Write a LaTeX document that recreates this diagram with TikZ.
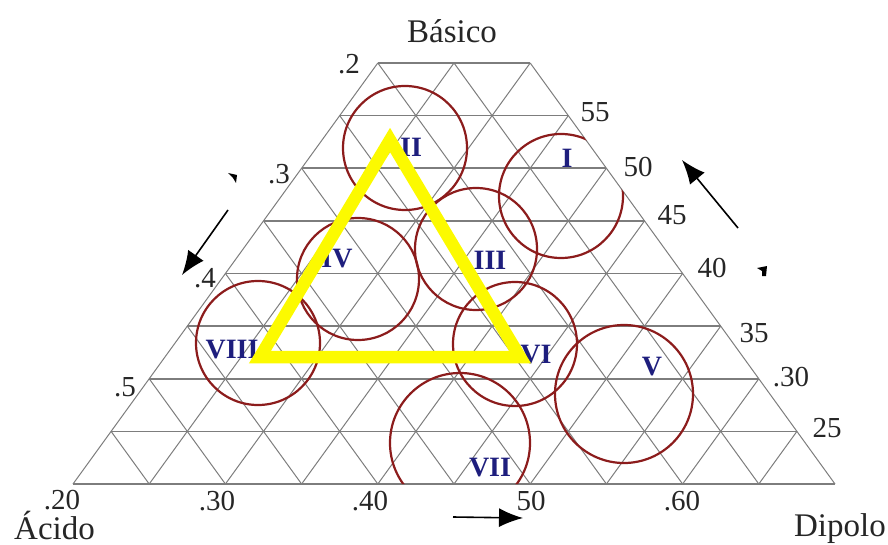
\documentclass[tikz,border=0pt]{standalone}
\usepackage{fontspec}
\setmainfont{Liberation Serif}
\usetikzlibrary{arrows.meta}
\definecolor{gridgray}{RGB}{125,125,125}
\definecolor{circred}{RGB}{140,28,28}
\definecolor{numblue}{RGB}{30,30,125}
\definecolor{yel}{RGB}{252,250,0}
\begin{document}
\begin{tikzpicture}[x=1pt,y=-1pt,
  gridh/.style={gridgray, line width=1.5pt},
  gridd/.style={gridgray, line width=1pt},
  region/.style={circred, line width=2.2pt},
  roman/.style={text=numblue, font=\fontsize{28}{30}\selectfont\bfseries, inner sep=0pt},
  ticklab/.style={font=\fontsize{29}{30}\selectfont, inner sep=0pt, text=black!85},
  axisname/.style={font=\fontsize{33}{36}\selectfont, inner sep=0pt, text=black!85},
  dirarrow/.style={black, line width=1.6pt, -{Latex[length=24pt,width=19pt]}},
  yelline/.style={yel, line width=12.5pt, line join=miter},
  ]
\useasboundingbox (0,0) rectangle (888,545);
% frame of the truncated triangle
\coordinate (A) at (73,484);
\coordinate (B) at (835,484);
\coordinate (TL) at ({73+38.1*8},{484-52.625*8});
\coordinate (TR) at ({73+76.2*2+38.1*8},{484-52.625*8});
% grid
\foreach \b in {0,...,8} {
  \draw[gridh] ({73+38.1*\b},{484-52.625*\b}) -- ({73+76.2*(10-\b)+38.1*\b},{484-52.625*\b});
}
\foreach \a in {0,...,9} {
  \pgfmathsetmacro\e{min(10-\a,8)}
  \draw[gridd] ({73+76.2*\a},484) -- ({73+76.2*\a+38.1*\e},{484-52.625*\e});
}
\foreach \a in {1,...,10} {
  \pgfmathsetmacro\e{min(\a,8)}
  \draw[gridd] ({73+76.2*\a},484) -- ({73+76.2*(\a-\e)+38.1*\e},{484-52.625*\e});
}
% circles
\begin{scope}
  \clip (A) -- (B) -- (TR) -- (TL) -- cycle;
  \draw[region] (561,196) circle[radius=62];
  \draw[region] (405,148) circle[radius=62];
  \draw[region] (476,249) circle[radius=61];
  \draw[region] (358,279) circle[radius=61];
  \draw[region] (624,394) circle[radius=69];
  \draw[region] (515,344) circle[radius=62];
  \draw[region] (460,443) circle[radius=70];
  \draw[region] (258,343) circle[radius=62];
\end{scope}
% roman labels
\node[roman] (rI) at (567,158) {I};
\node[roman] (rII) at (411,147) {II};
\node[roman] (rIII) at (490,260) {III};
\node[roman] (rIV) at (337,259) {IV};
\node[roman] (rV) at (652,367) {V};
\node[roman] (rVI) at (536,355) {VI};
\node[roman] (rVII) at (490,468) {VII};
\node[roman] (rVIII) at (232,350) {VIII};
% yellow triangle
\draw[yelline] (390,140) -- (260,357) -- (520,357) -- cycle;
% tick labels
\node[ticklab] (l2) at (349,64) {.2};
\node[ticklab] (l3) at (279,174) {.3};
\node[ticklab] (l4) at (205,278) {.4};
\node[ticklab] (l5) at (125,387) {.5};
\node[ticklab] (r55) at (595,112) {55};
\node[ticklab] (r50) at (638,167) {50};
\node[ticklab] (r45) at (672,215) {45};
\node[ticklab] (r40) at (712,268) {40};
\node[ticklab] (r35) at (754,333) {35};
\node[ticklab] (r30) at (791,377) {.30};
\node[ticklab] (r25) at (827,428) {25};
\node[ticklab] (b20) at (62,500) {.20};
\node[ticklab] (b30) at (217,501) {.30};
\node[ticklab] (b40) at (370,501) {.40};
\node[ticklab] (b50) at (531,501) {50};
\node[ticklab] (b60) at (682,501) {.60};
% axis names
\node[axisname, anchor=base] (basico) at (452,43) {Básico};
\node[axisname, anchor=base west] (acido) at (14,539) {Ácido};
\node[axisname, anchor=base east] (dipolo) at (886,536) {Dipolo};
% direction arrows
\coordinate (la1) at (228,210); \coordinate (la2) at (182,275);
\coordinate (ra1) at (738,228); \coordinate (ra2) at (682,160);
\coordinate (ba1) at (453,517); \coordinate (ba2) at (523,518);
\draw[dirarrow] (la1) -- (la2);
\draw[dirarrow] (ra1) -- (ra2);
\draw[dirarrow] (ba1) -- (ba2);
% small marks
\fill (228,173) -- (237,175) -- (236,183) -- (233,178) -- cycle;
\fill (757,268) -- (767,266) -- (766,276) -- (762,276) -- (762,271) -- cycle;
\end{tikzpicture}
\end{document}
